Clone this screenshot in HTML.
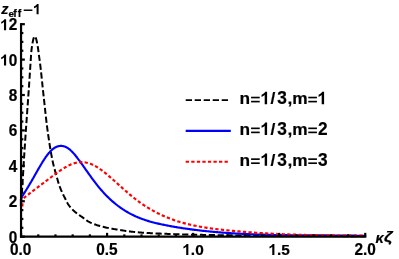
<!DOCTYPE html>
<html><head><meta charset="utf-8"><style>
html,body{margin:0;padding:0;background:#fff;}
svg{display:block;will-change:transform;opacity:0.999}
text{font-family:"Liberation Sans",sans-serif;font-weight:bold;fill:#000;stroke:#000;stroke-width:0.2px}
</style></head><body>
<svg width="399" height="259" viewBox="0 0 399 259">
<rect width="399" height="259" fill="#fff"/>
<g fill="none" stroke-width="2" stroke-linejoin="round">
<path d="M21.20,201.30 L21.40,198.84 L21.59,196.30 L21.79,193.67 L21.99,190.96 L22.18,188.17 L22.38,185.30 L22.58,182.30 L22.77,179.15 L22.97,175.88 L23.17,172.55 L23.36,169.21 L23.56,165.90 L23.76,162.69 L23.95,159.58 L24.15,156.49 L24.35,153.43 L24.54,150.39 L24.74,147.37 L24.94,144.37 L25.13,141.40 L25.33,138.44 L25.53,135.51 L25.72,132.60 L25.92,129.71 L26.12,126.85 L26.31,124.04 L26.51,121.25 L26.71,118.49 L26.90,115.75 L27.10,113.02 L27.30,110.30 L27.49,107.59 L27.69,104.86 L27.89,102.13 L28.08,99.37 L28.28,96.59 L28.48,93.79 L28.67,90.94 L28.87,88.06 L29.07,85.16 L29.26,82.23 L29.46,79.28 L29.66,76.33 L29.85,73.37 L30.05,70.41 L30.25,67.46 L30.44,64.52 L30.64,61.59 L30.84,58.59 L31.03,55.44 L31.23,52.68 L31.43,50.68 L31.62,48.96 L31.82,47.43 L32.02,46.06 L32.21,44.83 L32.41,43.70 L32.61,42.63 L32.80,41.58 L33.00,40.59 L33.20,39.68 L33.39,38.90 L33.59,38.27 L33.79,37.81 L33.98,37.40 L34.18,37.02 L34.38,36.71 L34.57,36.50 L34.77,36.40 L34.97,36.46 L35.16,36.67 L35.36,37.00 L35.56,37.40 L35.75,37.86 L35.95,38.32 L36.15,38.90 L36.34,39.61 L36.54,40.44 L36.74,41.34 L36.93,42.29 L37.13,43.25 L37.33,44.23 L37.52,45.28 L37.72,46.40 L37.92,47.60 L38.11,48.88 L38.31,50.33 L38.51,51.93 L38.70,53.56 L38.90,55.09 L39.10,56.48 L39.29,57.79 L39.49,59.09 L39.69,60.45 L39.88,61.93 L40.08,63.49 L40.28,65.11 L40.47,66.78 L40.67,68.49 L40.87,70.25 L41.06,72.04 L41.26,73.86 L41.46,75.71 L41.65,77.57 L41.85,79.45 L42.05,81.34 L42.24,83.22 L42.44,85.11 L42.64,86.99 L42.83,88.85 L43.03,90.70 L43.23,92.51 L43.42,94.30 L43.62,96.06 L43.82,97.84 L44.01,99.64 L44.21,101.45 L44.41,103.26 L44.60,105.08 L44.80,106.91 L45.00,108.73 L45.19,110.54 L45.39,112.35 L45.59,114.13 L45.78,115.90 L45.98,117.65 L46.18,119.38 L46.37,121.07 L46.57,122.73 L46.77,124.35 L46.96,125.92 L47.16,127.46 L47.36,128.94 L47.55,130.37 L47.75,131.78 L47.95,133.17 L48.14,134.55 L48.34,135.92 L48.54,137.27 L48.73,138.61 L48.93,139.93 L49.13,141.23 L49.32,142.52 L49.52,143.79 L49.72,145.04 L49.91,146.27 L50.11,147.49 L50.31,148.69 L50.50,149.86 L50.70,151.02 L50.89,152.15 L51.09,153.27 L51.29,154.36 L51.48,155.44 L51.68,156.48 L51.88,157.51 L52.07,158.51 L52.27,159.49 L52.47,160.45 L52.66,161.38 L52.86,162.28 L53.06,163.15 L53.25,164.00 L53.45,164.82 L53.65,165.62 L53.84,166.39 L54.04,167.14 L54.24,167.88 L54.43,168.61 L54.63,169.32 L54.83,170.02 L55.02,170.72 L55.22,171.41 L55.42,172.10 L55.61,172.78 L55.81,173.48 L56.01,174.17 L56.20,174.87 L56.40,175.58 L56.60,176.29 L56.79,177.00 L56.99,177.71 L57.19,178.41 L57.38,179.11 L57.58,179.81 L57.78,180.50 L57.97,181.18 L58.17,181.85 L58.37,182.51 L58.56,183.15 L58.76,183.78 L58.96,184.40 L59.15,185.00 L59.35,185.58 L59.55,186.13 L59.74,186.67 L59.94,187.20 L60.14,187.71 L60.33,188.20 L60.53,188.69 L60.73,189.16 L60.92,189.63 L61.12,190.08 L61.32,190.53 L61.51,190.98 L61.71,191.42 L61.91,191.86 L62.10,192.30 L62.30,192.73 L62.50,193.15 L62.69,193.57 L62.89,193.98 L63.09,194.39 L63.28,194.80 L63.48,195.20 L63.68,195.60 L63.87,196.00 L64.07,196.39 L64.27,196.78 L64.46,197.17 L64.66,197.56 L64.86,197.94 L65.05,198.33 L65.25,198.71 L65.45,199.10 L65.64,199.48 L65.84,199.87 L66.04,200.27 L66.23,200.67 L66.43,201.06 L66.63,201.46 L66.82,201.85 L67.02,202.24 L67.22,202.62 L67.41,202.99 L67.61,203.35 L67.81,203.70 L68.00,204.03 L68.20,204.35 L68.40,204.65 L68.59,204.93 L68.79,205.21 L68.99,205.48 L69.18,205.74 L69.38,206.00 L69.58,206.26 L69.77,206.51 L69.97,206.75 L70.17,206.99 L70.36,207.23 L70.56,207.46 L70.76,207.69 L70.95,207.91 L71.15,208.13 L71.35,208.35 L71.54,208.56 L71.74,208.77 L71.94,208.98 L72.13,209.18 L72.33,209.38 L72.53,209.58 L72.72,209.78 L72.92,209.97 L73.12,210.16 L73.31,210.34 L73.51,210.53 L73.71,210.71 L73.90,210.89 L74.10,211.07 L74.30,211.25 L74.49,211.43 L74.69,211.60 L74.89,211.78 L75.08,211.95 L75.28,212.12 L75.48,212.28 L75.67,212.44 L75.87,212.60 L76.07,212.76 L76.26,212.92 L76.46,213.07 L76.66,213.22 L76.85,213.37 L77.05,213.52 L77.25,213.67 L77.44,213.81 L77.64,213.96 L77.84,214.10 L78.03,214.24 L78.23,214.38 L78.43,214.52 L78.62,214.65 L78.82,214.79 L79.02,214.93 L79.21,215.06 L79.41,215.20 L79.61,215.33 L79.80,215.47 L80.00,215.60 L80.95,216.25 L81.91,216.91 L82.86,217.59 L83.82,218.30 L84.77,219.03 L85.72,219.76 L86.68,220.45 L87.63,221.09 L88.58,221.65 L89.54,222.15 L90.49,222.62 L91.45,223.06 L92.40,223.47 L93.35,223.86 L94.31,224.22 L95.26,224.56 L96.22,224.88 L97.17,225.19 L98.12,225.47 L99.08,225.75 L100.03,226.01 L100.98,226.27 L101.94,226.52 L102.89,226.77 L103.85,227.01 L104.80,227.24 L105.75,227.46 L106.71,227.67 L107.66,227.88 L108.62,228.07 L109.57,228.26 L110.52,228.45 L111.48,228.62 L112.43,228.79 L113.38,228.96 L114.34,229.13 L115.29,229.28 L116.25,229.44 L117.20,229.58 L118.15,229.73 L119.11,229.88 L120.06,230.03 L121.02,230.18 L121.97,230.33 L122.92,230.48 L123.88,230.63 L124.83,230.78 L125.78,230.93 L126.74,231.06 L127.69,231.20 L128.65,231.32 L129.60,231.44 L130.55,231.55 L131.51,231.66 L132.46,231.77 L133.42,231.88 L134.37,231.99 L135.32,232.09 L136.28,232.18 L137.23,232.27 L138.18,232.36 L139.14,232.45 L140.09,232.52 L141.05,232.60 L142.00,232.66 L142.95,232.73 L143.91,232.79 L144.86,232.85 L145.82,232.90 L146.77,232.96 L147.72,233.01 L148.68,233.06 L149.63,233.11 L150.58,233.15 L151.54,233.20 L152.49,233.25 L153.45,233.29 L154.40,233.34 L155.35,233.38 L156.31,233.43 L157.26,233.47 L158.22,233.51 L159.17,233.55 L160.12,233.59 L161.08,233.63 L162.03,233.67 L162.98,233.70 L163.94,233.74 L164.89,233.78 L165.85,233.81 L166.80,233.85 L167.75,233.88 L168.71,233.92 L169.66,233.95 L170.62,233.99 L171.57,234.02 L172.52,234.06 L173.48,234.09 L174.43,234.13 L175.38,234.16 L176.34,234.19 L177.29,234.23 L178.25,234.26 L179.20,234.29 L180.15,234.32 L181.11,234.35 L182.06,234.38 L183.02,234.41 L183.97,234.44 L184.92,234.47 L185.88,234.49 L186.83,234.52 L187.78,234.55 L188.74,234.57 L189.69,234.59 L190.65,234.62 L191.60,234.64 L192.55,234.66 L193.51,234.68 L194.46,234.70 L195.42,234.72 L196.37,234.74 L197.32,234.76 L198.28,234.78 L199.23,234.80 L200.18,234.82 L201.14,234.84 L202.09,234.86 L203.05,234.88 L204.00,234.89 L204.95,234.91 L205.91,234.93 L206.86,234.95 L207.82,234.96 L208.77,234.98 L209.72,235.00 L210.68,235.01 L211.63,235.03 L212.58,235.05 L213.54,235.06 L214.49,235.08 L215.45,235.09 L216.40,235.11 L217.35,235.12 L218.31,235.14 L219.26,235.15 L220.22,235.17 L221.17,235.18 L222.12,235.19 L223.08,235.21 L224.03,235.22 L224.98,235.23 L225.94,235.25 L226.89,235.26 L227.85,235.27 L228.80,235.28 L229.75,235.30 L230.71,235.31 L231.66,235.32 L232.62,235.33 L233.57,235.35 L234.52,235.36 L235.48,235.37 L236.43,235.38 L237.38,235.39 L238.34,235.40 L239.29,235.42 L240.25,235.43 L241.20,235.44 L242.15,235.45 L243.11,235.46 L244.06,235.47 L245.02,235.48 L245.97,235.49 L246.92,235.50 L247.88,235.51 L248.83,235.52 L249.78,235.53 L250.74,235.54 L251.69,235.55 L252.65,235.56 L253.60,235.57 L254.55,235.58 L255.51,235.59 L256.46,235.60 L257.42,235.61 L258.37,235.62 L259.32,235.63 L260.28,235.64 L261.23,235.65 L262.18,235.66 L263.14,235.67 L264.09,235.68 L265.05,235.68 L266.00,235.69 L266.95,235.70 L267.91,235.71 L268.86,235.72 L269.82,235.72 L270.77,235.73 L271.72,235.74 L272.68,235.75 L273.63,235.75 L274.58,235.76 L275.54,235.77 L276.49,235.78 L277.45,235.78 L278.40,235.79 L279.35,235.80 L280.31,235.80 L281.26,235.81 L282.22,235.81 L283.17,235.82 L284.12,235.83 L285.08,235.83 L286.03,235.84 L286.98,235.85 L287.94,235.85 L288.89,235.86 L289.85,235.86 L290.80,235.87 L291.75,235.88 L292.71,235.88 L293.66,235.89 L294.62,235.89 L295.57,235.90 L296.52,235.91 L297.48,235.91 L298.43,235.92 L299.38,235.92 L300.34,235.93 L301.29,235.94 L302.25,235.94 L303.20,235.95 L304.15,235.95 L305.11,235.96 L306.06,235.96 L307.02,235.97 L307.97,235.98 L308.92,235.98 L309.88,235.99 L310.83,235.99 L311.78,236.00 L312.74,236.00 L313.69,236.01 L314.65,236.01 L315.60,236.02 L316.55,236.02 L317.51,236.03 L318.46,236.03 L319.42,236.04 L320.37,236.04 L321.32,236.05 L322.28,236.05 L323.23,236.06 L324.18,236.06 L325.14,236.07 L326.09,236.07 L327.05,236.08 L328.00,236.08 L328.95,236.09 L329.91,236.09 L330.86,236.10 L331.82,236.10 L332.77,236.10 L333.72,236.11 L334.68,236.11 L335.63,236.12 L336.58,236.12 L337.54,236.12 L338.49,236.13 L339.45,236.13 L340.40,236.13 L341.35,236.14 L342.31,236.14 L343.26,236.15 L344.22,236.15 L345.17,236.15 L346.12,236.16 L347.08,236.16 L348.03,236.16 L348.98,236.16 L349.94,236.17 L350.89,236.17 L351.85,236.17 L352.80,236.17 L353.75,236.18 L354.71,236.18 L355.66,236.18 L356.62,236.18 L357.57,236.19 L358.52,236.19 L359.48,236.19 L360.43,236.19 L361.38,236.19 L362.34,236.20 L363.29,236.20 L364.25,236.20 L365.20,236.20" stroke="#000" stroke-dasharray="6.2 2.68" stroke-dashoffset="1.51"/>
<path d="M21.05,198.09 L21.25,197.78 L21.44,197.48 L21.64,197.17 L21.84,196.87 L22.04,196.56 L22.23,196.25 L22.43,195.95 L22.63,195.64 L22.82,195.33 L23.02,195.02 L23.22,194.71 L23.42,194.40 L23.61,194.09 L23.81,193.78 L24.01,193.46 L24.20,193.15 L24.40,192.84 L24.60,192.52 L24.80,192.21 L24.99,191.89 L25.19,191.57 L25.39,191.26 L25.58,190.94 L25.78,190.62 L25.98,190.30 L26.18,189.98 L26.37,189.66 L26.57,189.34 L26.77,189.02 L26.96,188.70 L27.16,188.37 L27.36,188.05 L27.56,187.72 L27.75,187.40 L27.95,187.07 L28.15,186.75 L28.34,186.42 L28.54,186.09 L28.74,185.76 L28.94,185.43 L29.13,185.10 L29.33,184.77 L29.53,184.44 L29.72,184.11 L29.92,183.78 L30.12,183.45 L30.32,183.11 L30.51,182.78 L30.71,182.44 L30.91,182.11 L31.11,181.77 L31.30,181.43 L31.50,181.10 L31.70,180.76 L31.89,180.42 L32.09,180.08 L32.29,179.74 L32.49,179.40 L32.68,179.05 L32.88,178.71 L33.08,178.37 L33.27,178.02 L33.47,177.68 L33.67,177.34 L33.87,176.99 L34.06,176.64 L34.26,176.30 L34.46,175.95 L34.65,175.60 L34.85,175.25 L35.05,174.91 L35.25,174.56 L35.44,174.21 L35.64,173.86 L35.84,173.51 L36.03,173.16 L36.23,172.81 L36.43,172.47 L36.63,172.12 L36.82,171.77 L37.02,171.42 L37.22,171.07 L37.41,170.73 L37.61,170.38 L37.81,170.04 L38.01,169.69 L38.20,169.34 L38.40,169.00 L38.60,168.66 L38.79,168.31 L38.99,167.97 L39.19,167.63 L39.39,167.29 L39.58,166.95 L39.78,166.61 L39.98,166.27 L40.17,165.94 L40.37,165.60 L40.57,165.27 L40.77,164.94 L40.96,164.60 L41.16,164.27 L41.36,163.95 L41.55,163.62 L41.75,163.29 L41.95,162.97 L42.15,162.65 L42.34,162.33 L42.54,162.01 L42.74,161.69 L42.93,161.38 L43.13,161.06 L43.33,160.75 L43.53,160.44 L43.72,160.13 L43.92,159.83 L44.12,159.53 L44.31,159.23 L44.51,158.93 L44.71,158.63 L44.91,158.34 L45.10,158.05 L45.30,157.76 L45.50,157.47 L45.69,157.19 L45.89,156.91 L46.09,156.63 L46.29,156.35 L46.48,156.08 L46.68,155.81 L46.88,155.54 L47.07,155.28 L47.27,155.02 L47.47,154.76 L47.67,154.50 L47.86,154.25 L48.06,154.00 L48.26,153.76 L48.45,153.52 L48.65,153.28 L48.85,153.04 L49.05,152.81 L49.24,152.58 L49.44,152.36 L49.64,152.14 L49.83,151.92 L50.03,151.71 L50.23,151.50 L50.43,151.29 L50.62,151.09 L50.82,150.89 L51.02,150.70 L51.22,150.51 L51.41,150.32 L51.61,150.14 L51.81,149.96 L52.00,149.78 L52.20,149.61 L52.40,149.45 L52.60,149.28 L52.79,149.13 L52.99,148.97 L53.19,148.82 L53.38,148.67 L53.58,148.53 L53.78,148.39 L53.98,148.25 L54.17,148.12 L54.37,147.99 L54.57,147.87 L54.76,147.75 L54.96,147.63 L55.16,147.52 L55.36,147.41 L55.55,147.31 L55.75,147.20 L55.95,147.11 L56.14,147.01 L56.34,146.92 L56.54,146.84 L56.74,146.76 L56.93,146.68 L57.13,146.60 L57.33,146.53 L57.52,146.47 L57.72,146.40 L57.92,146.34 L58.12,146.29 L58.31,146.23 L58.51,146.19 L58.71,146.14 L58.90,146.10 L59.10,146.06 L59.30,146.03 L59.50,146.00 L59.69,145.98 L59.89,145.95 L60.09,145.94 L60.28,145.92 L60.48,145.91 L60.68,145.90 L60.88,145.90 L61.07,145.90 L61.27,145.91 L61.47,145.91 L61.66,145.92 L61.86,145.94 L62.06,145.96 L62.26,145.98 L62.45,146.01 L62.65,146.04 L62.85,146.07 L63.04,146.11 L63.24,146.15 L63.44,146.19 L63.64,146.24 L63.83,146.29 L64.03,146.35 L64.23,146.41 L64.42,146.47 L64.62,146.54 L64.82,146.61 L65.02,146.68 L65.21,146.76 L65.41,146.84 L65.61,146.93 L65.80,147.01 L66.00,147.11 L66.20,147.20 L66.40,147.30 L66.59,147.40 L66.79,147.51 L66.99,147.62 L67.18,147.73 L67.38,147.85 L67.58,147.97 L67.78,148.09 L67.97,148.22 L68.17,148.35 L68.37,148.49 L68.56,148.63 L68.76,148.77 L68.96,148.91 L69.16,149.06 L69.35,149.21 L69.55,149.37 L69.75,149.53 L69.94,149.69 L70.14,149.86 L70.34,150.03 L70.54,150.20 L70.73,150.38 L70.93,150.56 L71.13,150.75 L71.33,150.93 L71.52,151.12 L71.72,151.32 L71.92,151.51 L72.11,151.71 L72.31,151.92 L72.51,152.12 L72.71,152.33 L72.90,152.54 L73.10,152.75 L73.30,152.97 L73.49,153.19 L73.69,153.41 L73.89,153.64 L74.09,153.86 L74.28,154.09 L74.48,154.32 L74.68,154.56 L74.87,154.79 L75.07,155.03 L75.27,155.27 L75.47,155.51 L75.66,155.76 L75.86,156.00 L76.06,156.25 L76.25,156.50 L76.45,156.75 L76.65,157.01 L76.85,157.26 L77.04,157.52 L77.24,157.77 L77.44,158.03 L77.63,158.29 L77.83,158.55 L78.03,158.82 L78.23,159.08 L78.42,159.35 L78.62,159.61 L78.82,159.88 L79.01,160.15 L79.21,160.42 L79.41,160.69 L79.61,160.96 L79.80,161.23 L80.00,161.50 L80.95,162.82 L81.91,164.15 L82.86,165.49 L83.82,166.83 L84.77,168.18 L85.72,169.53 L86.68,170.88 L87.63,172.23 L88.58,173.57 L89.54,174.91 L90.49,176.24 L91.45,177.55 L92.40,178.86 L93.35,180.15 L94.31,181.43 L95.26,182.68 L96.22,183.92 L97.17,185.13 L98.12,186.32 L99.08,187.48 L100.03,188.62 L100.98,189.73 L101.94,190.83 L102.89,191.89 L103.85,192.94 L104.80,193.96 L105.75,194.95 L106.71,195.93 L107.66,196.88 L108.62,197.81 L109.57,198.72 L110.52,199.61 L111.48,200.48 L112.43,201.32 L113.38,202.15 L114.34,202.95 L115.29,203.74 L116.25,204.51 L117.20,205.25 L118.15,205.98 L119.11,206.69 L120.06,207.38 L121.02,208.05 L121.97,208.71 L122.92,209.34 L123.88,209.97 L124.83,210.57 L125.78,211.16 L126.74,211.73 L127.69,212.28 L128.65,212.82 L129.60,213.34 L130.55,213.85 L131.51,214.35 L132.46,214.83 L133.42,215.30 L134.37,215.75 L135.32,216.19 L136.28,216.62 L137.23,217.03 L138.18,217.43 L139.14,217.82 L140.09,218.20 L141.05,218.57 L142.00,218.93 L142.95,219.27 L143.91,219.61 L144.86,219.93 L145.82,220.25 L146.77,220.56 L147.72,220.86 L148.68,221.15 L149.63,221.43 L150.58,221.70 L151.54,221.96 L152.49,222.22 L153.45,222.47 L154.40,222.72 L155.35,222.96 L156.31,223.19 L157.26,223.41 L158.22,223.63 L159.17,223.85 L160.12,224.06 L161.08,224.27 L162.03,224.47 L162.98,224.67 L163.94,224.86 L164.89,225.06 L165.85,225.25 L166.80,225.43 L167.75,225.62 L168.71,225.80 L169.66,225.98 L170.62,226.15 L171.57,226.33 L172.52,226.50 L173.48,226.67 L174.43,226.84 L175.38,227.00 L176.34,227.16 L177.29,227.32 L178.25,227.48 L179.20,227.63 L180.15,227.78 L181.11,227.93 L182.06,228.08 L183.02,228.23 L183.97,228.37 L184.92,228.51 L185.88,228.65 L186.83,228.79 L187.78,228.92 L188.74,229.05 L189.69,229.18 L190.65,229.31 L191.60,229.44 L192.55,229.56 L193.51,229.69 L194.46,229.81 L195.42,229.92 L196.37,230.04 L197.32,230.16 L198.28,230.27 L199.23,230.38 L200.18,230.49 L201.14,230.60 L202.09,230.70 L203.05,230.81 L204.00,230.91 L204.95,231.01 L205.91,231.11 L206.86,231.21 L207.82,231.30 L208.77,231.40 L209.72,231.49 L210.68,231.58 L211.63,231.67 L212.58,231.76 L213.54,231.84 L214.49,231.93 L215.45,232.01 L216.40,232.10 L217.35,232.18 L218.31,232.26 L219.26,232.34 L220.22,232.41 L221.17,232.49 L222.12,232.56 L223.08,232.63 L224.03,232.71 L224.98,232.78 L225.94,232.85 L226.89,232.91 L227.85,232.98 L228.80,233.04 L229.75,233.11 L230.71,233.17 L231.66,233.23 L232.62,233.29 L233.57,233.35 L234.52,233.41 L235.48,233.47 L236.43,233.52 L237.38,233.58 L238.34,233.63 L239.29,233.68 L240.25,233.73 L241.20,233.78 L242.15,233.83 L243.11,233.88 L244.06,233.93 L245.02,233.97 L245.97,234.02 L246.92,234.06 L247.88,234.10 L248.83,234.14 L249.78,234.19 L250.74,234.22 L251.69,234.26 L252.65,234.30 L253.60,234.34 L254.55,234.37 L255.51,234.41 L256.46,234.44 L257.42,234.48 L258.37,234.51 L259.32,234.54 L260.28,234.57 L261.23,234.60 L262.18,234.63 L263.14,234.66 L264.09,234.69 L265.05,234.72 L266.00,234.74 L266.95,234.77 L267.91,234.79 L268.86,234.82 L269.82,234.84 L270.77,234.86 L271.72,234.88 L272.68,234.91 L273.63,234.93 L274.58,234.95 L275.54,234.97 L276.49,234.98 L277.45,235.00 L278.40,235.02 L279.35,235.04 L280.31,235.05 L281.26,235.07 L282.22,235.08 L283.17,235.10 L284.12,235.11 L285.08,235.13 L286.03,235.14 L286.98,235.15 L287.94,235.17 L288.89,235.18 L289.85,235.19 L290.80,235.20 L291.75,235.21 L292.71,235.22 L293.66,235.23 L294.62,235.24 L295.57,235.25 L296.52,235.26 L297.48,235.27 L298.43,235.28 L299.38,235.29 L300.34,235.29 L301.29,235.30 L302.25,235.31 L303.20,235.31 L304.15,235.32 L305.11,235.33 L306.06,235.33 L307.02,235.34 L307.97,235.35 L308.92,235.35 L309.88,235.36 L310.83,235.36 L311.78,235.37 L312.74,235.37 L313.69,235.38 L314.65,235.38 L315.60,235.39 L316.55,235.39 L317.51,235.40 L318.46,235.40 L319.42,235.41 L320.37,235.41 L321.32,235.42 L322.28,235.42 L323.23,235.43 L324.18,235.43 L325.14,235.44 L326.09,235.44 L327.05,235.45 L328.00,235.45 L328.95,235.46 L329.91,235.46 L330.86,235.47 L331.82,235.47 L332.77,235.48 L333.72,235.48 L334.68,235.49 L335.63,235.50 L336.58,235.50 L337.54,235.51 L338.49,235.52 L339.45,235.52 L340.40,235.53 L341.35,235.54 L342.31,235.55 L343.26,235.55 L344.22,235.56 L345.17,235.57 L346.12,235.58 L347.08,235.59 L348.03,235.60 L348.98,235.61 L349.94,235.62 L350.89,235.63 L351.85,235.64 L352.80,235.66 L353.75,235.67 L354.71,235.68 L355.66,235.69 L356.62,235.71 L357.57,235.72 L358.52,235.74 L359.48,235.75 L360.43,235.77 L361.38,235.78 L362.34,235.80 L363.29,235.82 L364.25,235.84 L365.20,235.85" stroke="#0000ff" stroke-width="2.15"/>
<path d="M22.60,198.98 L22.79,198.82 L22.98,198.67 L23.18,198.52 L23.37,198.37 L23.56,198.21 L23.75,198.06 L23.94,197.91 L24.14,197.76 L24.33,197.60 L24.52,197.45 L24.71,197.30 L24.90,197.15 L25.10,197.00 L25.29,196.85 L25.48,196.70 L25.67,196.55 L25.86,196.39 L26.06,196.24 L26.25,196.09 L26.44,195.94 L26.63,195.79 L26.82,195.64 L27.02,195.49 L27.21,195.34 L27.40,195.19 L27.59,195.04 L27.78,194.89 L27.98,194.75 L28.17,194.60 L28.36,194.45 L28.55,194.30 L28.74,194.15 L28.94,194.00 L29.13,193.85 L29.32,193.70 L29.51,193.56 L29.70,193.41 L29.89,193.26 L30.09,193.11 L30.28,192.96 L30.47,192.82 L30.66,192.67 L30.85,192.52 L31.05,192.37 L31.24,192.23 L31.43,192.08 L31.62,191.93 L31.81,191.78 L32.01,191.64 L32.20,191.49 L32.39,191.34 L32.58,191.20 L32.77,191.05 L32.97,190.90 L33.16,190.76 L33.35,190.61 L33.54,190.46 L33.73,190.32 L33.93,190.17 L34.12,190.02 L34.31,189.88 L34.50,189.73 L34.69,189.59 L34.89,189.44 L35.08,189.29 L35.27,189.15 L35.46,189.00 L35.65,188.86 L35.85,188.71 L36.04,188.56 L36.23,188.42 L36.42,188.27 L36.61,188.13 L36.81,187.98 L37.00,187.84 L37.19,187.69 L37.38,187.55 L37.57,187.40 L37.77,187.26 L37.96,187.11 L38.15,186.97 L38.34,186.82 L38.53,186.67 L38.73,186.53 L38.92,186.38 L39.11,186.24 L39.30,186.09 L39.49,185.95 L39.69,185.80 L39.88,185.66 L40.07,185.51 L40.26,185.37 L40.45,185.22 L40.65,185.08 L40.84,184.93 L41.03,184.79 L41.22,184.64 L41.41,184.50 L41.61,184.36 L41.80,184.21 L41.99,184.07 L42.18,183.92 L42.37,183.78 L42.57,183.63 L42.76,183.49 L42.95,183.34 L43.14,183.20 L43.33,183.05 L43.53,182.91 L43.72,182.76 L43.91,182.62 L44.10,182.47 L44.29,182.33 L44.48,182.18 L44.68,182.04 L44.87,181.89 L45.06,181.75 L45.25,181.60 L45.44,181.45 L45.64,181.31 L45.83,181.16 L46.02,181.02 L46.21,180.87 L46.40,180.73 L46.60,180.58 L46.79,180.44 L46.98,180.29 L47.17,180.15 L47.36,180.00 L47.56,179.85 L47.75,179.71 L47.94,179.56 L48.13,179.42 L48.32,179.27 L48.52,179.13 L48.71,178.98 L48.90,178.83 L49.09,178.69 L49.28,178.54 L49.48,178.40 L49.67,178.25 L49.86,178.10 L50.05,177.96 L50.24,177.81 L50.44,177.67 L50.63,177.52 L50.82,177.38 L51.01,177.23 L51.20,177.08 L51.40,176.94 L51.59,176.79 L51.78,176.65 L51.97,176.50 L52.16,176.36 L52.36,176.21 L52.55,176.07 L52.74,175.92 L52.93,175.78 L53.12,175.64 L53.32,175.49 L53.51,175.35 L53.70,175.21 L53.89,175.06 L54.08,174.92 L54.28,174.78 L54.47,174.63 L54.66,174.49 L54.85,174.35 L55.04,174.21 L55.24,174.07 L55.43,173.93 L55.62,173.79 L55.81,173.65 L56.00,173.51 L56.20,173.37 L56.39,173.23 L56.58,173.09 L56.77,172.95 L56.96,172.81 L57.16,172.67 L57.35,172.54 L57.54,172.40 L57.73,172.26 L57.92,172.13 L58.12,171.99 L58.31,171.85 L58.50,171.72 L58.69,171.58 L58.88,171.45 L59.07,171.32 L59.27,171.18 L59.46,171.05 L59.65,170.92 L59.84,170.79 L60.03,170.66 L60.23,170.53 L60.42,170.40 L60.61,170.27 L60.80,170.14 L60.99,170.01 L61.19,169.88 L61.38,169.76 L61.57,169.63 L61.76,169.51 L61.95,169.38 L62.15,169.26 L62.34,169.13 L62.53,169.01 L62.72,168.89 L62.91,168.76 L63.11,168.64 L63.30,168.52 L63.49,168.40 L63.68,168.28 L63.87,168.17 L64.07,168.05 L64.26,167.93 L64.45,167.82 L64.64,167.70 L64.83,167.59 L65.03,167.47 L65.22,167.36 L65.41,167.25 L65.60,167.14 L65.79,167.03 L65.99,166.92 L66.18,166.81 L66.37,166.70 L66.56,166.59 L66.75,166.49 L66.95,166.38 L67.14,166.28 L67.33,166.18 L67.52,166.08 L67.71,165.98 L67.91,165.88 L68.10,165.78 L68.29,165.68 L68.48,165.58 L68.67,165.49 L68.87,165.39 L69.06,165.30 L69.25,165.21 L69.44,165.12 L69.63,165.03 L69.83,164.94 L70.02,164.85 L70.21,164.76 L70.40,164.68 L70.59,164.59 L70.79,164.51 L70.98,164.43 L71.17,164.35 L71.36,164.27 L71.55,164.19 L71.75,164.12 L71.94,164.04 L72.13,163.97 L72.32,163.89 L72.51,163.82 L72.71,163.75 L72.90,163.69 L73.09,163.62 L73.28,163.55 L73.47,163.49 L73.66,163.43 L73.86,163.37 L74.05,163.31 L74.24,163.25 L74.43,163.19 L74.62,163.14 L74.82,163.08 L75.01,163.03 L75.20,162.98 L75.39,162.93 L75.58,162.88 L75.78,162.84 L75.97,162.79 L76.16,162.75 L76.35,162.71 L76.54,162.67 L76.74,162.63 L76.93,162.59 L77.12,162.56 L77.31,162.53 L77.50,162.49 L77.70,162.46 L77.89,162.43 L78.08,162.41 L78.27,162.38 L78.46,162.36 L78.66,162.33 L78.85,162.31 L79.04,162.29 L79.23,162.27 L79.42,162.26 L79.62,162.24 L79.81,162.23 L80.00,162.21 L80.95,162.18 L81.91,162.18 L82.86,162.21 L83.82,162.29 L84.77,162.40 L85.72,162.54 L86.68,162.73 L87.63,162.95 L88.58,163.21 L89.54,163.51 L90.49,163.84 L91.45,164.21 L92.40,164.61 L93.35,165.06 L94.31,165.54 L95.26,166.05 L96.22,166.60 L97.17,167.17 L98.12,167.78 L99.08,168.41 L100.03,169.07 L100.98,169.75 L101.94,170.46 L102.89,171.18 L103.85,171.92 L104.80,172.67 L105.75,173.44 L106.71,174.23 L107.66,175.02 L108.62,175.82 L109.57,176.63 L110.52,177.45 L111.48,178.28 L112.43,179.11 L113.38,179.95 L114.34,180.80 L115.29,181.65 L116.25,182.50 L117.20,183.36 L118.15,184.22 L119.11,185.08 L120.06,185.94 L121.02,186.79 L121.97,187.65 L122.92,188.50 L123.88,189.35 L124.83,190.20 L125.78,191.04 L126.74,191.88 L127.69,192.71 L128.65,193.53 L129.60,194.34 L130.55,195.15 L131.51,195.94 L132.46,196.72 L133.42,197.49 L134.37,198.25 L135.32,199.00 L136.28,199.73 L137.23,200.45 L138.18,201.16 L139.14,201.86 L140.09,202.54 L141.05,203.22 L142.00,203.88 L142.95,204.53 L143.91,205.16 L144.86,205.79 L145.82,206.41 L146.77,207.01 L147.72,207.60 L148.68,208.18 L149.63,208.76 L150.58,209.32 L151.54,209.86 L152.49,210.40 L153.45,210.93 L154.40,211.45 L155.35,211.96 L156.31,212.46 L157.26,212.95 L158.22,213.43 L159.17,213.90 L160.12,214.36 L161.08,214.81 L162.03,215.25 L162.98,215.68 L163.94,216.10 L164.89,216.52 L165.85,216.92 L166.80,217.32 L167.75,217.71 L168.71,218.09 L169.66,218.46 L170.62,218.82 L171.57,219.18 L172.52,219.53 L173.48,219.87 L174.43,220.20 L175.38,220.52 L176.34,220.84 L177.29,221.15 L178.25,221.46 L179.20,221.75 L180.15,222.04 L181.11,222.32 L182.06,222.60 L183.02,222.87 L183.97,223.13 L184.92,223.39 L185.88,223.64 L186.83,223.88 L187.78,224.12 L188.74,224.35 L189.69,224.58 L190.65,224.80 L191.60,225.01 L192.55,225.22 L193.51,225.43 L194.46,225.63 L195.42,225.82 L196.37,226.01 L197.32,226.20 L198.28,226.38 L199.23,226.55 L200.18,226.73 L201.14,226.89 L202.09,227.06 L203.05,227.22 L204.00,227.37 L204.95,227.52 L205.91,227.67 L206.86,227.82 L207.82,227.96 L208.77,228.10 L209.72,228.23 L210.68,228.36 L211.63,228.49 L212.58,228.62 L213.54,228.74 L214.49,228.86 L215.45,228.98 L216.40,229.10 L217.35,229.21 L218.31,229.33 L219.26,229.44 L220.22,229.54 L221.17,229.65 L222.12,229.76 L223.08,229.86 L224.03,229.96 L224.98,230.06 L225.94,230.16 L226.89,230.26 L227.85,230.36 L228.80,230.46 L229.75,230.55 L230.71,230.65 L231.66,230.74 L232.62,230.83 L233.57,230.92 L234.52,231.01 L235.48,231.10 L236.43,231.19 L237.38,231.27 L238.34,231.36 L239.29,231.44 L240.25,231.52 L241.20,231.60 L242.15,231.68 L243.11,231.76 L244.06,231.84 L245.02,231.92 L245.97,231.99 L246.92,232.07 L247.88,232.14 L248.83,232.22 L249.78,232.29 L250.74,232.36 L251.69,232.43 L252.65,232.50 L253.60,232.56 L254.55,232.63 L255.51,232.70 L256.46,232.76 L257.42,232.83 L258.37,232.89 L259.32,232.95 L260.28,233.01 L261.23,233.07 L262.18,233.13 L263.14,233.19 L264.09,233.24 L265.05,233.30 L266.00,233.36 L266.95,233.41 L267.91,233.46 L268.86,233.52 L269.82,233.57 L270.77,233.62 L271.72,233.67 L272.68,233.72 L273.63,233.77 L274.58,233.81 L275.54,233.86 L276.49,233.91 L277.45,233.95 L278.40,234.00 L279.35,234.04 L280.31,234.08 L281.26,234.12 L282.22,234.17 L283.17,234.21 L284.12,234.25 L285.08,234.28 L286.03,234.32 L286.98,234.36 L287.94,234.40 L288.89,234.43 L289.85,234.47 L290.80,234.50 L291.75,234.53 L292.71,234.57 L293.66,234.60 L294.62,234.63 L295.57,234.66 L296.52,234.69 L297.48,234.72 L298.43,234.75 L299.38,234.78 L300.34,234.81 L301.29,234.84 L302.25,234.86 L303.20,234.89 L304.15,234.91 L305.11,234.94 L306.06,234.96 L307.02,234.99 L307.97,235.01 L308.92,235.03 L309.88,235.05 L310.83,235.07 L311.78,235.09 L312.74,235.12 L313.69,235.13 L314.65,235.15 L315.60,235.17 L316.55,235.19 L317.51,235.21 L318.46,235.23 L319.42,235.24 L320.37,235.26 L321.32,235.28 L322.28,235.29 L323.23,235.31 L324.18,235.32 L325.14,235.33 L326.09,235.35 L327.05,235.36 L328.00,235.37 L328.95,235.39 L329.91,235.40 L330.86,235.41 L331.82,235.42 L332.77,235.43 L333.72,235.44 L334.68,235.45 L335.63,235.46 L336.58,235.47 L337.54,235.48 L338.49,235.49 L339.45,235.50 L340.40,235.51 L341.35,235.52 L342.31,235.52 L343.26,235.53 L344.22,235.54 L345.17,235.54 L346.12,235.55 L347.08,235.56 L348.03,235.56 L348.98,235.57 L349.94,235.58 L350.89,235.58 L351.85,235.59 L352.80,235.59 L353.75,235.60 L354.71,235.60 L355.66,235.60 L356.62,235.61 L357.57,235.61 L358.52,235.62 L359.48,235.62 L360.43,235.62 L361.38,235.63 L362.34,235.63 L363.29,235.63 L364.25,235.64 L365.20,235.64" stroke="#ff0000" stroke-dasharray="3.3 2.25" stroke-dashoffset="4.19" stroke-width="2.15"/>
</g>
<rect x="20.9" y="203.3" width="2.6" height="3.2" fill="#ff0000"/>
<rect x="19.3" y="199" width="1.2" height="7.2" fill="#ff0000" fill-opacity="0.22"/>
<g stroke="#000" stroke-width="2.2" fill="none">
<line x1="21.05" y1="237.75" x2="21.05" y2="23.09"/>
<line x1="19.95" y1="236.65" x2="366.35" y2="236.65"/>
<line x1="21.05" y1="236.65" x2="21.05" y2="232.85"/>
<line x1="38.26" y1="236.65" x2="38.26" y2="234.35"/>
<line x1="55.47" y1="236.65" x2="55.47" y2="234.35"/>
<line x1="72.68" y1="236.65" x2="72.68" y2="234.35"/>
<line x1="89.89" y1="236.65" x2="89.89" y2="234.35"/>
<line x1="107.10" y1="236.65" x2="107.10" y2="232.85"/>
<line x1="124.31" y1="236.65" x2="124.31" y2="234.35"/>
<line x1="141.52" y1="236.65" x2="141.52" y2="234.35"/>
<line x1="158.73" y1="236.65" x2="158.73" y2="234.35"/>
<line x1="175.94" y1="236.65" x2="175.94" y2="234.35"/>
<line x1="193.15" y1="236.65" x2="193.15" y2="232.85"/>
<line x1="210.36" y1="236.65" x2="210.36" y2="234.35"/>
<line x1="227.57" y1="236.65" x2="227.57" y2="234.35"/>
<line x1="244.78" y1="236.65" x2="244.78" y2="234.35"/>
<line x1="261.99" y1="236.65" x2="261.99" y2="234.35"/>
<line x1="279.20" y1="236.65" x2="279.20" y2="232.85"/>
<line x1="296.41" y1="236.65" x2="296.41" y2="234.35"/>
<line x1="313.62" y1="236.65" x2="313.62" y2="234.35"/>
<line x1="330.83" y1="236.65" x2="330.83" y2="234.35"/>
<line x1="348.04" y1="236.65" x2="348.04" y2="234.35"/>
<line x1="365.25" y1="236.65" x2="365.25" y2="232.85"/>
<line x1="21.05" y1="236.65" x2="24.85" y2="236.65"/>
<line x1="21.05" y1="227.80" x2="23.35" y2="227.80"/>
<line x1="21.05" y1="218.94" x2="23.35" y2="218.94"/>
<line x1="21.05" y1="210.09" x2="23.35" y2="210.09"/>
<line x1="21.05" y1="201.24" x2="24.85" y2="201.24"/>
<line x1="21.05" y1="192.39" x2="23.35" y2="192.39"/>
<line x1="21.05" y1="183.54" x2="23.35" y2="183.54"/>
<line x1="21.05" y1="174.68" x2="23.35" y2="174.68"/>
<line x1="21.05" y1="165.83" x2="24.85" y2="165.83"/>
<line x1="21.05" y1="156.98" x2="23.35" y2="156.98"/>
<line x1="21.05" y1="148.12" x2="23.35" y2="148.12"/>
<line x1="21.05" y1="139.27" x2="23.35" y2="139.27"/>
<line x1="21.05" y1="130.42" x2="24.85" y2="130.42"/>
<line x1="21.05" y1="121.57" x2="23.35" y2="121.57"/>
<line x1="21.05" y1="112.72" x2="23.35" y2="112.72"/>
<line x1="21.05" y1="103.86" x2="23.35" y2="103.86"/>
<line x1="21.05" y1="95.01" x2="24.85" y2="95.01"/>
<line x1="21.05" y1="86.16" x2="23.35" y2="86.16"/>
<line x1="21.05" y1="77.31" x2="23.35" y2="77.31"/>
<line x1="21.05" y1="68.45" x2="23.35" y2="68.45"/>
<line x1="21.05" y1="59.60" x2="24.85" y2="59.60"/>
<line x1="21.05" y1="50.75" x2="23.35" y2="50.75"/>
<line x1="21.05" y1="41.90" x2="23.35" y2="41.90"/>
<line x1="21.05" y1="33.04" x2="23.35" y2="33.04"/>
<line x1="21.05" y1="24.19" x2="24.85" y2="24.19"/>
</g>
<g fill="#000">
<text x="8.64" y="242.65" font-size="15.4" transform="matrix(1 0 0 1.025 0 -6.066)">0</text>
<text x="8.64" y="207.24" font-size="15.4" transform="matrix(1 0 0 1.025 0 -5.181)">2</text>
<text x="8.64" y="171.83" font-size="15.4" transform="matrix(1 0 0 1.025 0 -4.296)">4</text>
<text x="8.64" y="136.42" font-size="15.4" transform="matrix(1 0 0 1.025 0 -3.410)">6</text>
<text x="8.64" y="101.01" font-size="15.4" transform="matrix(1 0 0 1.025 0 -2.525)">8</text>
<path d="M393,0H254V525Q178,454 74,420V546Q129,564 193,614Q257,665 281,716H393Z" transform="translate(0.07,65.60) scale(0.01540,-0.01540)"/><text x="8.64" y="65.60" font-size="15.4" transform="matrix(1 0 0 1.025 0 -1.640)">0</text>
<path d="M393,0H254V525Q178,454 74,420V546Q129,564 193,614Q257,665 281,716H393Z" transform="translate(0.07,30.19) scale(0.01540,-0.01540)"/><text x="8.64" y="30.19" font-size="15.4" transform="matrix(1 0 0 1.025 0 -0.755)">2</text>
<text x="9.90" y="254.95" font-size="15.4" transform="matrix(1 0 0 1.025 0 -6.374)">0.0</text>
<text x="96.25" y="254.95" font-size="15.4" transform="matrix(1 0 0 1.025 0 -6.374)">0.5</text>
<path d="M393,0H254V525Q178,454 74,420V546Q129,564 193,614Q257,665 281,716H393Z" transform="translate(182.30,254.95) scale(0.01540,-0.01540)"/><text x="190.86" y="254.95" font-size="15.4">.0</text>
<path d="M393,0H254V525Q178,454 74,420V546Q129,564 193,614Q257,665 281,716H393Z" transform="translate(268.35,254.95) scale(0.01540,-0.01540)"/><text x="276.91" y="254.95" font-size="15.4">.5</text>
<text x="354.40" y="254.95" font-size="15.4" transform="matrix(1 0 0 1.025 0 -6.374)">2.0</text>
</g>
<text x="375.6" y="242.7" font-size="14.5" font-style="italic">κ</text>
<text transform="translate(384.0,242.0) scale(1.2,1.06)" x="0" y="0" font-size="14.5" font-style="italic">ζ</text>
<text x="1.2" y="14.3" font-size="14.5" font-style="italic">z</text>
<text x="8.5" y="17.3" font-size="10" transform="matrix(1 0 0 0.98 0 0.346)">e</text>
<text x="13.35 17.7" y="17.3" font-size="10.6">ff</text>
<rect x="23.7" y="9.5" width="8.7" height="1.45" fill="#000"/>
<path d="M393,0H254V525Q178,454 74,420V546Q129,564 193,614Q257,665 281,716H393Z" transform="translate(32.90,14.30) scale(0.01450,-0.01450)"/>
<g fill="none" stroke-width="1.9">
<line x1="185.7" y1="100.1" x2="229" y2="100.1" stroke="#000" stroke-dasharray="6.3 2.7"/>
<line x1="185.7" y1="130.9" x2="230.8" y2="130.9" stroke="#0000ff" stroke-width="2.1"/>
<line x1="185.7" y1="161.7" x2="229" y2="161.7" stroke="#ff0000" stroke-dasharray="3.3 2.25" stroke-width="2.1"/>
</g>
<g fill="#000">
<text x="239.40" y="104.20" font-size="17.3" transform="matrix(1 0 0 0.965 0 3.647)">n</text><rect x="251.08" y="96.72" width="8.65" height="1.64"/><rect x="251.08" y="100.78" width="8.65" height="1.64"/><path d="M393,0H254V525Q178,454 74,420V546Q129,564 193,614Q257,665 281,716H393Z" transform="translate(260.30,104.20) scale(0.01730,-0.01730)"/><text x="270.40" y="104.20" font-size="17.3">/</text><text x="277.35" y="104.20" font-size="17.3" transform="matrix(1 0 0 1.03 0 -3.126)">3</text><text x="287.40" y="104.20" font-size="17.3">,</text><text x="292.20" y="104.20" font-size="17.3" transform="matrix(1 0 0 0.965 0 3.647)">m</text><rect x="308.28" y="96.72" width="8.65" height="1.64"/><rect x="308.28" y="100.78" width="8.65" height="1.64"/><path d="M393,0H254V525Q178,454 74,420V546Q129,564 193,614Q257,665 281,716H393Z" transform="translate(317.30,104.20) scale(0.01730,-0.01730)"/>
<text x="239.40" y="135.00" font-size="17.3" transform="matrix(1 0 0 0.965 0 4.725)">n</text><rect x="251.08" y="127.52" width="8.65" height="1.64"/><rect x="251.08" y="131.58" width="8.65" height="1.64"/><path d="M393,0H254V525Q178,454 74,420V546Q129,564 193,614Q257,665 281,716H393Z" transform="translate(260.30,135.00) scale(0.01730,-0.01730)"/><text x="270.40" y="135.00" font-size="17.3">/</text><text x="277.35" y="135.00" font-size="17.3" transform="matrix(1 0 0 1.03 0 -4.050)">3</text><text x="287.40" y="135.00" font-size="17.3">,</text><text x="292.20" y="135.00" font-size="17.3" transform="matrix(1 0 0 0.965 0 4.725)">m</text><rect x="308.28" y="127.52" width="8.65" height="1.64"/><rect x="308.28" y="131.58" width="8.65" height="1.64"/><text x="317.90" y="135.00" font-size="17.3" transform="matrix(1 0 0 1.03 0 -4.050)">2</text>
<text x="239.40" y="165.80" font-size="17.3" transform="matrix(1 0 0 0.965 0 5.803)">n</text><rect x="251.08" y="158.32" width="8.65" height="1.64"/><rect x="251.08" y="162.38" width="8.65" height="1.64"/><path d="M393,0H254V525Q178,454 74,420V546Q129,564 193,614Q257,665 281,716H393Z" transform="translate(260.30,165.80) scale(0.01730,-0.01730)"/><text x="270.40" y="165.80" font-size="17.3">/</text><text x="277.35" y="165.80" font-size="17.3" transform="matrix(1 0 0 1.03 0 -4.974)">3</text><text x="287.40" y="165.80" font-size="17.3">,</text><text x="292.20" y="165.80" font-size="17.3" transform="matrix(1 0 0 0.965 0 5.803)">m</text><rect x="308.28" y="158.32" width="8.65" height="1.64"/><rect x="308.28" y="162.38" width="8.65" height="1.64"/><text x="317.90" y="165.80" font-size="17.3" transform="matrix(1 0 0 1.03 0 -4.974)">3</text>
</g>
</svg>
</body></html>
